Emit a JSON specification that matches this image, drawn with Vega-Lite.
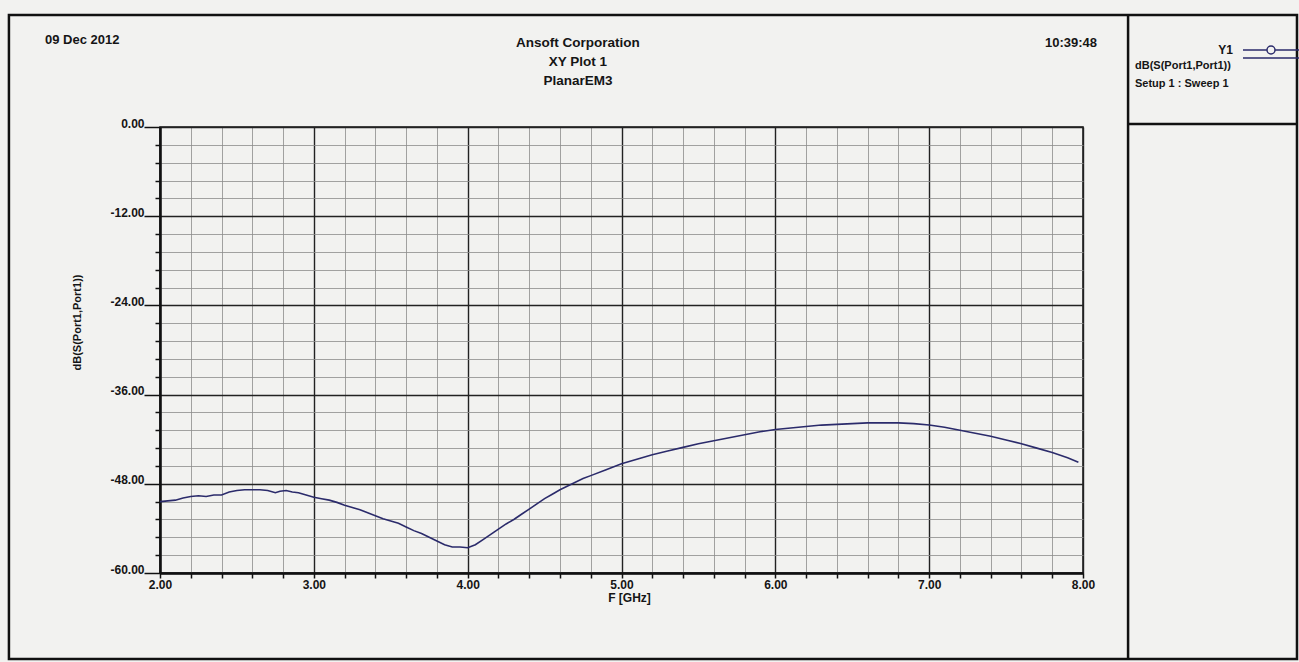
{
  "$schema": "https://vega.github.io/schema/vega-lite/v6.json",
  "width": 923,
  "height": 446,
  "autosize": {"type": "none"},
  "padding": {"left": 160, "top": 127, "right": 216, "bottom": 89},
  "background": "#f2f2f0",
  "config": {
    "view": {"stroke": "#111111", "strokeWidth": 1.5},
    "font": "Liberation Sans Narrow, Liberation Sans, Arial, sans-serif"
  },
  "layer": [
    {
      "data": {"values": [{}]},
      "mark": {"type": "rect", "filled": false, "stroke": "#111111", "strokeWidth": 2.5, "clip": false},
      "encoding": {
        "x": {"datum": 1.018},
        "x2": {"datum": 9.391},
        "y": {"datum": 15.07},
        "y2": {"datum": -71.57}
      }
    },
    {
      "data": {"values": [{}]},
      "mark": {"type": "rule", "stroke": "#111111", "strokeWidth": 2.5, "clip": false},
      "encoding": {
        "x": {"datum": 8.293},
        "y": {"datum": 15.07},
        "y2": {"datum": -71.57}
      }
    },
    {
      "data": {"values": [{}]},
      "mark": {"type": "rule", "stroke": "#111111", "strokeWidth": 2.5, "clip": false},
      "encoding": {
        "x": {"datum": 8.293},
        "x2": {"datum": 9.391},
        "y": {"datum": 0.4}
      }
    },
    {
      "data": {"values": [{}]},
      "mark": {"type": "text", "text": "09 Dec 2012", "align": "left", "baseline": "middle", "fontSize": 13, "fontWeight": "bold", "color": "#151515", "clip": false},
      "encoding": {"x": {"datum": 1.2524}, "y": {"datum": 11.7}}
    },
    {
      "data": {"values": [{}]},
      "mark": {"type": "text", "text": "10:39:48", "align": "right", "baseline": "middle", "fontSize": 13, "fontWeight": "bold", "color": "#151515", "clip": false},
      "encoding": {"x": {"datum": 8.091}, "y": {"datum": 11.3}}
    },
    {
      "data": {"values": [{}]},
      "mark": {"type": "text", "text": ["Ansoft Corporation", "XY Plot 1", "PlanarEM3"], "align": "center", "baseline": "middle", "fontSize": 13.5, "fontWeight": "bold", "lineHeight": 19, "color": "#151515", "clip": false},
      "encoding": {"x": {"datum": 4.717}, "y": {"datum": 11.3}}
    },
    {
      "data": {
        "values": [
          {"freq": 2.00, "db": -50.4, "series": "Y1"},
          {"freq": 2.05, "db": -50.3, "series": "Y1"},
          {"freq": 2.10, "db": -50.2, "series": "Y1"},
          {"freq": 2.15, "db": -49.9, "series": "Y1"},
          {"freq": 2.20, "db": -49.7, "series": "Y1"},
          {"freq": 2.25, "db": -49.6, "series": "Y1"},
          {"freq": 2.30, "db": -49.7, "series": "Y1"},
          {"freq": 2.35, "db": -49.5, "series": "Y1"},
          {"freq": 2.40, "db": -49.5, "series": "Y1"},
          {"freq": 2.45, "db": -49.1, "series": "Y1"},
          {"freq": 2.50, "db": -48.9, "series": "Y1"},
          {"freq": 2.55, "db": -48.8, "series": "Y1"},
          {"freq": 2.60, "db": -48.8, "series": "Y1"},
          {"freq": 2.65, "db": -48.8, "series": "Y1"},
          {"freq": 2.70, "db": -48.9, "series": "Y1"},
          {"freq": 2.75, "db": -49.2, "series": "Y1"},
          {"freq": 2.78, "db": -49.0, "series": "Y1"},
          {"freq": 2.82, "db": -48.9, "series": "Y1"},
          {"freq": 2.86, "db": -49.1, "series": "Y1"},
          {"freq": 2.90, "db": -49.2, "series": "Y1"},
          {"freq": 2.95, "db": -49.5, "series": "Y1"},
          {"freq": 3.00, "db": -49.8, "series": "Y1"},
          {"freq": 3.05, "db": -50.0, "series": "Y1"},
          {"freq": 3.10, "db": -50.2, "series": "Y1"},
          {"freq": 3.15, "db": -50.5, "series": "Y1"},
          {"freq": 3.20, "db": -50.9, "series": "Y1"},
          {"freq": 3.25, "db": -51.2, "series": "Y1"},
          {"freq": 3.30, "db": -51.5, "series": "Y1"},
          {"freq": 3.35, "db": -51.9, "series": "Y1"},
          {"freq": 3.40, "db": -52.3, "series": "Y1"},
          {"freq": 3.45, "db": -52.7, "series": "Y1"},
          {"freq": 3.50, "db": -53.0, "series": "Y1"},
          {"freq": 3.55, "db": -53.3, "series": "Y1"},
          {"freq": 3.60, "db": -53.8, "series": "Y1"},
          {"freq": 3.65, "db": -54.3, "series": "Y1"},
          {"freq": 3.70, "db": -54.7, "series": "Y1"},
          {"freq": 3.75, "db": -55.2, "series": "Y1"},
          {"freq": 3.80, "db": -55.7, "series": "Y1"},
          {"freq": 3.85, "db": -56.2, "series": "Y1"},
          {"freq": 3.90, "db": -56.5, "series": "Y1"},
          {"freq": 3.95, "db": -56.5, "series": "Y1"},
          {"freq": 4.00, "db": -56.6, "series": "Y1"},
          {"freq": 4.05, "db": -56.2, "series": "Y1"},
          {"freq": 4.10, "db": -55.5, "series": "Y1"},
          {"freq": 4.15, "db": -54.8, "series": "Y1"},
          {"freq": 4.20, "db": -54.1, "series": "Y1"},
          {"freq": 4.25, "db": -53.4, "series": "Y1"},
          {"freq": 4.30, "db": -52.8, "series": "Y1"},
          {"freq": 4.35, "db": -52.1, "series": "Y1"},
          {"freq": 4.40, "db": -51.4, "series": "Y1"},
          {"freq": 4.45, "db": -50.7, "series": "Y1"},
          {"freq": 4.50, "db": -50.0, "series": "Y1"},
          {"freq": 4.55, "db": -49.4, "series": "Y1"},
          {"freq": 4.60, "db": -48.8, "series": "Y1"},
          {"freq": 4.65, "db": -48.3, "series": "Y1"},
          {"freq": 4.70, "db": -47.8, "series": "Y1"},
          {"freq": 4.75, "db": -47.3, "series": "Y1"},
          {"freq": 4.80, "db": -46.9, "series": "Y1"},
          {"freq": 4.90, "db": -46.1, "series": "Y1"},
          {"freq": 5.00, "db": -45.3, "series": "Y1"},
          {"freq": 5.10, "db": -44.7, "series": "Y1"},
          {"freq": 5.20, "db": -44.1, "series": "Y1"},
          {"freq": 5.30, "db": -43.6, "series": "Y1"},
          {"freq": 5.40, "db": -43.1, "series": "Y1"},
          {"freq": 5.50, "db": -42.6, "series": "Y1"},
          {"freq": 5.60, "db": -42.2, "series": "Y1"},
          {"freq": 5.70, "db": -41.8, "series": "Y1"},
          {"freq": 5.80, "db": -41.4, "series": "Y1"},
          {"freq": 5.90, "db": -41.0, "series": "Y1"},
          {"freq": 6.00, "db": -40.7, "series": "Y1"},
          {"freq": 6.10, "db": -40.5, "series": "Y1"},
          {"freq": 6.20, "db": -40.3, "series": "Y1"},
          {"freq": 6.30, "db": -40.1, "series": "Y1"},
          {"freq": 6.40, "db": -40.0, "series": "Y1"},
          {"freq": 6.50, "db": -39.9, "series": "Y1"},
          {"freq": 6.60, "db": -39.8, "series": "Y1"},
          {"freq": 6.70, "db": -39.8, "series": "Y1"},
          {"freq": 6.80, "db": -39.8, "series": "Y1"},
          {"freq": 6.90, "db": -39.9, "series": "Y1"},
          {"freq": 7.00, "db": -40.1, "series": "Y1"},
          {"freq": 7.10, "db": -40.4, "series": "Y1"},
          {"freq": 7.20, "db": -40.8, "series": "Y1"},
          {"freq": 7.30, "db": -41.2, "series": "Y1"},
          {"freq": 7.40, "db": -41.6, "series": "Y1"},
          {"freq": 7.50, "db": -42.1, "series": "Y1"},
          {"freq": 7.60, "db": -42.6, "series": "Y1"},
          {"freq": 7.70, "db": -43.2, "series": "Y1"},
          {"freq": 7.80, "db": -43.8, "series": "Y1"},
          {"freq": 7.90, "db": -44.5, "series": "Y1"},
          {"freq": 7.97, "db": -45.1, "series": "Y1"}
        ]
      },
      "mark": {"type": "line", "strokeWidth": 1.6},
      "encoding": {
        "x": {
          "field": "freq",
          "type": "quantitative",
          "scale": {"domain": [2, 8], "nice": false, "zero": false},
          "axis": {
            "title": "F [GHz]",
            "values": [2, 2.2, 2.4, 2.6, 2.8, 3, 3.2, 3.4, 3.6, 3.8, 4, 4.2, 4.4, 4.6, 4.8, 5, 5.2, 5.4, 5.6, 5.8, 6, 6.2, 6.4, 6.6, 6.8, 7, 7.2, 7.4, 7.6, 7.8, 8],
            "tickCount": 200,
            "labelExpr": "datum.value % 1 === 0 ? format(datum.value, '.2f') : ''",
            "labelOverlap": false,
            "labelFlush": false,
            "grid": true,
            "gridColor": {"condition": {"test": "datum.value % 1 === 0", "value": "#222222"}, "value": "#8c8c8c"},
            "gridWidth": {"condition": {"test": "datum.value % 1 === 0", "value": 1.4}, "value": 0.8},
            "tickSize": 5,
            "tickColor": "#111111",
            "tickWidth": 1.5,
            "domainColor": "#111111",
            "domainWidth": 2.5,
            "labelFontSize": 12,
            "labelFontWeight": "bold",
            "labelColor": "#151515",
            "labelPadding": 1,
            "titleFontSize": 12,
            "titleFontWeight": "bold",
            "titleColor": "#151515",
            "titlePadding": 2,
            "titleX": 469
          }
        },
        "y": {
          "field": "db",
          "type": "quantitative",
          "scale": {"domain": [-60, 0], "nice": false, "zero": false},
          "axis": {
            "title": "dB(S(Port1,Port1))",
            "values": [0, -2.4, -4.8, -7.2, -9.6, -12, -14.4, -16.8, -19.2, -21.6, -24, -26.4, -28.8, -31.2, -33.6, -36, -38.4, -40.8, -43.2, -45.6, -48, -50.4, -52.8, -55.2, -57.6, -60],
            "tickCount": 200,
            "labelExpr": "datum.value % 12 === 0 ? replace(format(datum.value, '.2f'), '\u2212', '-') : ''",
            "labelOverlap": false,
            "labelFlush": false,
            "labelBaseline": "alphabetic",
            "grid": true,
            "gridColor": {"condition": {"test": "datum.value % 12 === 0", "value": "#222222"}, "value": "#8c8c8c"},
            "gridWidth": {"condition": {"test": "datum.value % 12 === 0", "value": 1.4}, "value": 0.8},
            "tickSize": {"condition": {"test": "datum.value % 12 === 0", "value": 16}, "value": 5},
            "tickColor": "#111111",
            "tickWidth": 1.5,
            "domainColor": "#111111",
            "domainWidth": 2.5,
            "labelFontSize": 12,
            "labelFontWeight": "bold",
            "labelColor": "#151515",
            "labelPadding": 0,
            "titleFontSize": 11,
            "titleFontWeight": "bold",
            "titleColor": "#151515",
            "titlePadding": 27,
            "titleY": 195
          }
        },
        "color": {
          "field": "series",
          "type": "nominal",
          "scale": {"range": ["#2b2b6b"]},
          "legend": {
            "orient": "none",
            "legendX": 975,
            "legendY": -102,
            "padding": 0,
            "title": ["dB(S(Port1,Port1))", "Setup 1 : Sweep 1"],
            "titleOrient": "bottom",
            "titleAnchor": "start",
            "titleAlign": "left",
            "titlePadding": -1,
            "titleFontSize": 11,
            "titleFontWeight": "bold",
            "titleColor": "#151515",
            "titleLineHeight": 18,
            "symbolType": "M-1,-0.143H-0.143A0.143,0.143 0 1,1 0.143,-0.143A0.143,0.143 0 1,1 -0.143,-0.143M0.143,-0.143H1M-1,0.143H1",
            "symbolSize": 3136,
            "symbolStrokeWidth": 1.5,
            "symbolFillColor": "transparent",
            "symbolOffset": 107,
            "labelAlign": "right",
            "labelBaseline": "alphabetic",
            "labelOffset": -67,
            "labelFontSize": 12,
            "labelFontWeight": "bold",
            "labelColor": "#151515"
          }
        }
      }
    }
  ]
}
